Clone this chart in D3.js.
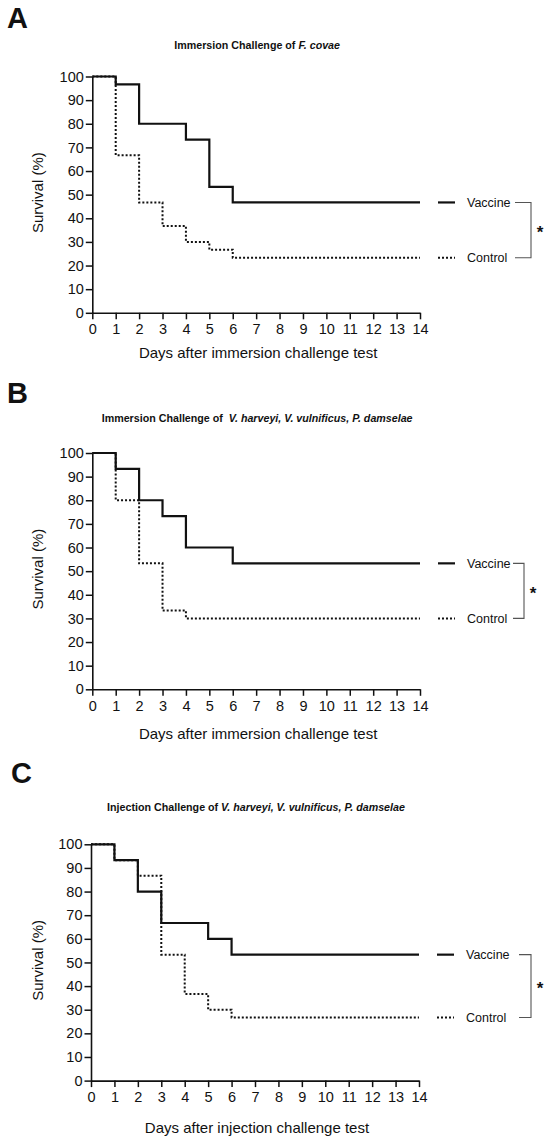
<!DOCTYPE html>
<html>
<head>
<meta charset="utf-8">
<script src="https://cdn.jsdelivr.net/npm/d3@7"></script>
<style>
  body { margin: 0; background: #fff; }
  svg { display: block; }
  text { font-family: "Liberation Sans", Arial, sans-serif; fill: #111; }
</style>
</head>
<body>
<div id="chart"></div>
<script>
// series names and axis ticks
const groups = ['Vaccine', 'Control'];
const dayTicks = [0, 1, 2, 3, 4, 5, 6, 7, 8, 9, 10, 11, 12, 13, 14];
const survivalTicks = [0, 10, 20, 30, 40, 50, 60, 70, 80, 90, 100];

// survival steps: [day, survival %] at each change
const vaccineA = [[0, 100], [1, 96.7], [2, 80], [4, 73.3], [5, 53.3], [6, 46.7], [14, 46.7]];
const controlA = [[0, 100], [1, 66.7], [2, 46.7], [3, 36.7], [4, 30], [5, 26.7], [6, 23.3], [14, 23.3]];
const vaccineB = [[0, 100], [1, 93.3], [2, 80], [3, 73.3], [4, 60], [6, 53.3], [14, 53.3]];
const controlB = [[0, 100], [1, 80], [2, 53.3], [3, 33.3], [4, 30], [14, 30]];
const vaccineC = [[0, 100], [1, 93.3], [2, 80], [3, 66.7], [5, 60], [6, 53.3], [14, 53.3]];
const controlC = [[0, 100], [1, 93.3], [2, 86.7], [3, 53.3], [4, 36.7], [5, 30], [6, 26.7], [14, 26.7]];

// titles as [text, italic] pieces
const titleA = [['Immersion Challenge of ', false], ['F. covae', true]];
const titleB = [['Immersion Challenge of  ', false], ['V. harveyi, V. vulnificus, P. damselae', true]];
const titleC = [['Injection Challenge of ', false], ['V. harveyi, V. vulnificus, P. damselae', true]];

const width = 550;
const height = 1140;
const plotHeight = 236.3;

// layout of the three panels
const panels = [
    { letter: 'A', title: titleA, xlabel: 'Days after immersion challenge test',
      vaccine: vaccineA, control: controlA,
      top: 76.5, left: 92.3, right: 420, letterX: 7, letterY: 28, titleY: 45, xlabelY: 352.7,
      bracket: [515, 531, 540] },
    { letter: 'B', title: titleB, xlabel: 'Days after immersion challenge test',
      vaccine: vaccineB, control: controlB,
      top: 453, left: 92.3, right: 420, letterX: 7, letterY: 403, titleY: 418.3, xlabelY: 733.3,
      bracket: [513, 524, 533] },
    { letter: 'C', title: titleC, xlabel: 'Days after injection challenge test',
      vaccine: vaccineC, control: controlC,
      top: 844.3, left: 91, right: 419, letterX: 11, letterY: 783, titleY: 807.7, xlabelY: 1127.7,
      bracket: [519, 531, 540] }
];

const svg = d3.select('#chart')
              .append('svg')
              .attr('width', width)
              .attr('height', height);

panels.forEach((p) => {
    const x = d3.scaleLinear().domain([0, 14]).range([p.left, p.right]);
    const y = d3.scaleLinear().domain([0, 100]).range([p.top + plotHeight, p.top]);
    const g = svg.append('g');

    // panel letter
    g.append('text')
     .attr('x', p.letterX)
     .attr('y', p.letterY)
     .style('font-size', '29px')
     .style('font-weight', 'bold')
     .text(p.letter);

    // title with italic species names
    const title = g.append('text')
                   .attr('x', (p.left + p.right) / 2 + 1)
                   .attr('y', p.titleY)
                   .attr('dy', '0.35em')
                   .attr('text-anchor', 'middle')
                   .style('font-size', '10.7px')
                   .style('font-weight', 'bold')
                   .style('white-space', 'pre');
    p.title.forEach((part) => {
        title.append('tspan')
             .style('font-style', part[1] ? 'italic' : 'normal')
             .text(part[0]);
    });

    // axes
    const xAxis = g.append('g')
                   .attr('transform', `translate(0, ${p.top + plotHeight})`)
                   .call(d3.axisBottom(x).tickValues(dayTicks).tickSize(6.5).tickSizeOuter(0).tickPadding(4.5));
    const yAxis = g.append('g')
                   .attr('transform', `translate(${p.left}, 0)`)
                   .call(d3.axisLeft(y).tickValues(survivalTicks).tickSize(6.5).tickSizeOuter(0).tickPadding(2));

    [xAxis, yAxis].forEach((ax) => {
        ax.select('.domain').attr('stroke', '#111').attr('stroke-width', 1.6);
        ax.selectAll('.tick line').attr('stroke', '#111').attr('stroke-width', 1.5);
        ax.selectAll('.tick text')
          .style('font-size', '14.5px')
          .style('font-family', '"Liberation Sans", Arial, sans-serif')
          .attr('fill', '#111');
    });

    // axis labels
    g.append('text')
     .attr('x', (p.left + p.right) / 2 + 2)
     .attr('y', p.xlabelY)
     .attr('dy', '0.35em')
     .attr('text-anchor', 'middle')
     .style('font-size', '15px')
     .text(p.xlabel);

    g.append('text')
     .attr('transform', `translate(37.5, ${p.top + plotHeight / 2 - 2}) rotate(-90)`)
     .attr('dy', '0.35em')
     .attr('text-anchor', 'middle')
     .style('font-size', '15px')
     .text('Survival (%)');

    // step curves
    const line = d3.line()
                   .x((d) => x(d[0]))
                   .y((d) => y(d[1]))
                   .curve(d3.curveStepAfter);

    const series = [
        { name: groups[1], data: p.control, dash: '2,2', w: 2 },
        { name: groups[0], data: p.vaccine, dash: null, w: 2.2 }
    ];

    series.forEach((s) => {
        g.append('path')
         .datum(s.data)
         .attr('d', line)
         .attr('fill', 'none')
         .attr('stroke', '#111')
         .attr('stroke-width', s.w)
         .attr('stroke-dasharray', s.dash);
    });

    // legend next to the final values
    const legendY = {};
    series.forEach((s) => {
        const yy = y(s.data[s.data.length - 1][1]);
        legendY[s.name] = yy;
        g.append('line')
         .attr('x1', p.right + 18)
         .attr('x2', p.right + 35)
         .attr('y1', yy)
         .attr('y2', yy)
         .attr('stroke', '#111')
         .attr('stroke-width', s.w)
         .attr('stroke-dasharray', s.dash);
        g.append('text')
         .attr('x', p.right + 47)
         .attr('y', yy)
         .attr('dy', '0.35em')
         .style('font-size', '12.5px')
         .text(s.name);
    });

    // significance bracket
    const yTop = legendY[groups[0]];
    const yBot = legendY[groups[1]];
    g.append('path')
     .attr('d', `M${p.bracket[0]},${yTop}H${p.bracket[1]}V${yBot}H${p.bracket[0]}`)
     .attr('fill', 'none')
     .attr('stroke', '#555')
     .attr('stroke-width', 1.1);

    g.append('text')
     .attr('x', p.bracket[2])
     .attr('y', (yTop + yBot) / 2 + 8)
     .attr('text-anchor', 'middle')
     .style('font-size', '17px')
     .style('font-weight', 'bold')
     .text('*');
});
</script>
</body>
</html>
